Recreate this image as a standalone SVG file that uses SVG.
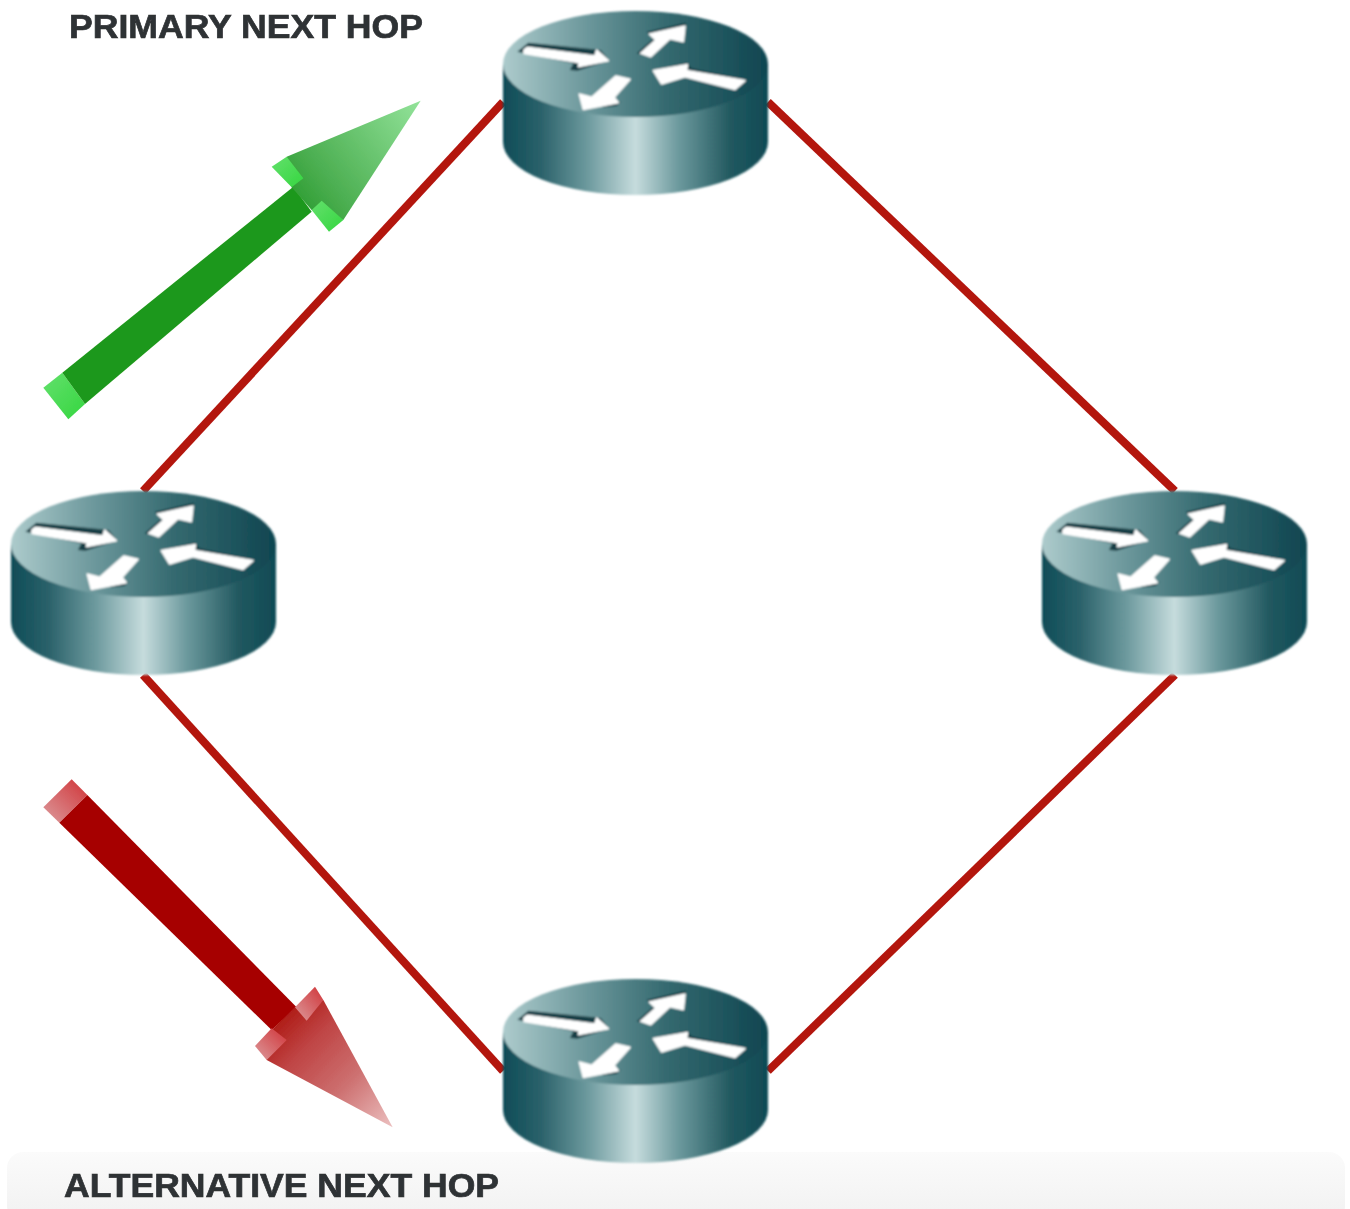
<svg xmlns="http://www.w3.org/2000/svg" xmlns:xlink="http://www.w3.org/1999/xlink" width="1350" height="1209" viewBox="0 0 1350 1209">
<style>
.link{stroke:#b3140c;stroke-width:8;fill:none}
.label{font-family:"Liberation Sans",Arial,sans-serif;font-weight:700;font-size:34px;fill:#2e3134;stroke:#2e3134;stroke-width:.7}
.wh{fill:#fff;stroke:#fff;stroke-width:5;stroke-linejoin:round}.dk{fill:#123c44}
</style>
<defs>
<filter id="soft" x="-5%" y="-5%" width="110%" height="110%"><feGaussianBlur stdDeviation="0.9"/></filter>
<filter id="softT" x="-5%" y="-20%" width="110%" height="140%"><feGaussianBlur stdDeviation="0.6"/></filter>
<linearGradient id="side" x1="0" x2="1" y1="0" y2="0">
<stop offset="0" stop-color="#0f4c57"/><stop offset=".14" stop-color="#2a616a"/><stop offset=".32" stop-color="#6d9a9e"/><stop offset=".5" stop-color="#c6dcdd"/><stop offset=".66" stop-color="#6d9a9e"/><stop offset=".86" stop-color="#21585f"/><stop offset="1" stop-color="#0f4a55"/>
</linearGradient>
<linearGradient id="top" x1="0" x2="1" y1="0" y2="0">
<stop offset="0" stop-color="#adcbcc"/><stop offset=".3" stop-color="#6f9a9e"/><stop offset=".62" stop-color="#34696f"/><stop offset="1" stop-color="#0f4550"/>
</linearGradient>
<linearGradient id="gHead" gradientUnits="userSpaceOnUse" x1="780" y1="330" x2="1172" y2="32">
<stop offset="0" stop-color="#2c9c30"/><stop offset=".25" stop-color="#4bae50"/><stop offset="1" stop-color="#93e39a"/>
</linearGradient>
<linearGradient id="rHead" gradientUnits="userSpaceOnUse" x1="840" y1="740" x2="1178" y2="1072">
<stop offset="0" stop-color="#ae1a14"/><stop offset=".25" stop-color="#bf4444"/><stop offset=".6" stop-color="#cd7070"/><stop offset="1" stop-color="#ecc0c0"/>
</linearGradient>
<linearGradient id="rCap" x1="1" y1="0" x2="0" y2="1">
<stop offset="0" stop-color="#d03438"/><stop offset="1" stop-color="#dc9a9c"/>
</linearGradient>
<linearGradient id="gCap" x1="0" y1="0" x2="1" y2="1">
<stop offset="0" stop-color="#63e06c"/><stop offset="1" stop-color="#35d640"/>
</linearGradient>
<linearGradient id="panel" x1="0" x2="0" y1="0" y2="1">
<stop offset="0" stop-color="#fbfbfb"/><stop offset="1" stop-color="#f1f1f1"/>
</linearGradient>
<g id="router" filter="url(#soft)">
<path d="M0 53V131A132.500 53 0 0 0 265 131V53Z" fill="url(#side)"/>
<ellipse cx="132.500" cy="53" rx="132.500" ry="53" fill="url(#top)"/>
<g transform="translate(-13,-11) scale(.33333)">
<path class="dk" d="M82 155L115 128L332 150L358 182L262 212L240 210L250 190Z"/>
<path class="wh" d="M102 150L112 142L315 168L320 150L355 182L265 200L268 188L102 160Z"/>
<path class="dk" d="M440 160L492 115L470 95L588 68L585 85L480 170Z"/>
<path class="wh" d="M452 160L497 120L478 102L585 78L580 125L540 116L482 170Z"/>
<path class="dk" d="M490 210L590 188L605 205L770 240L760 250L590 215Z"/>
<path class="wh" d="M490 212L592 194L590 212L765 242L735 268L585 230L515 252Z"/>
<path class="dk" d="M330 315L392 305L380 318L340 322Z"/>
<path class="wh" d="M420 238L372 292L385 308L280 328L268 282L305 292L378 228Z"/>
</g>
</g>
</defs>
<rect width="1350" height="1209" fill="#fff"/>
<rect id="footer" x="7" y="1152" width="1338" height="70" rx="16" fill="url(#panel)"/>
<g id="connectors" filter="url(#softT)">
<line class="link" x1="143" y1="491" x2="503" y2="102"/>
<line class="link" x1="768" y1="102" x2="1175" y2="491"/>
<line class="link" x1="143" y1="675" x2="503" y2="1071"/>
<line class="link" x1="768" y1="1071" x2="1175" y2="675"/>
</g>
<g id="router-top"><use xlink:href="#router" href="#router" x="503" y="11"/></g>
<g id="router-left"><use xlink:href="#router" href="#router" x="11" y="491"/></g>
<g id="router-right"><use xlink:href="#router" href="#router" x="1042" y="491"/></g>
<g id="router-bottom"><use xlink:href="#router" href="#router" x="503" y="979"/></g>
<g id="arrow-primary" transform="translate(30,90) scale(.33333)" filter="url(#soft)">
<path d="M40 893L97 848L165 942L115 988Z" fill="url(#gCap)"/>
<path d="M97 848L790 290L845 365L165 942Z" fill="#1e981a"/>
<path d="M770 200L1172 32L940 390L845 360L785 292Z" fill="url(#gHead)"/>
<path d="M725 230L770 200L820 265L785 292Z" fill="url(#gCap)"/>
<path d="M845 360L875 332L940 390L897 425Z" fill="url(#gCap)"/>
</g>
<g id="arrow-alternative" transform="translate(0,770) scale(.33333)" filter="url(#soft)">
<path d="M130 112L215 28L262 75L178 158Z" fill="url(#rCap)"/>
<path d="M262 75L890 712L815 780L178 158Z" fill="#a60000"/>
<path d="M970 690L1178 1072L800 870L815 780L885 712Z" fill="url(#rHead)"/>
<path d="M885 712L945 650L970 690L920 752Z" fill="url(#rCap)"/>
<path d="M765 828L815 775L860 810L800 870Z" fill="url(#rCap)"/>
</g>
<text id="label-primary" class="label" x="69" y="38" textLength="354" lengthAdjust="spacingAndGlyphs" filter="url(#softT)">PRIMARY NEXT HOP</text>
<text id="label-alternative" class="label" x="64" y="1197" textLength="435" lengthAdjust="spacingAndGlyphs" filter="url(#softT)">ALTERNATIVE NEXT HOP</text>
</svg>
